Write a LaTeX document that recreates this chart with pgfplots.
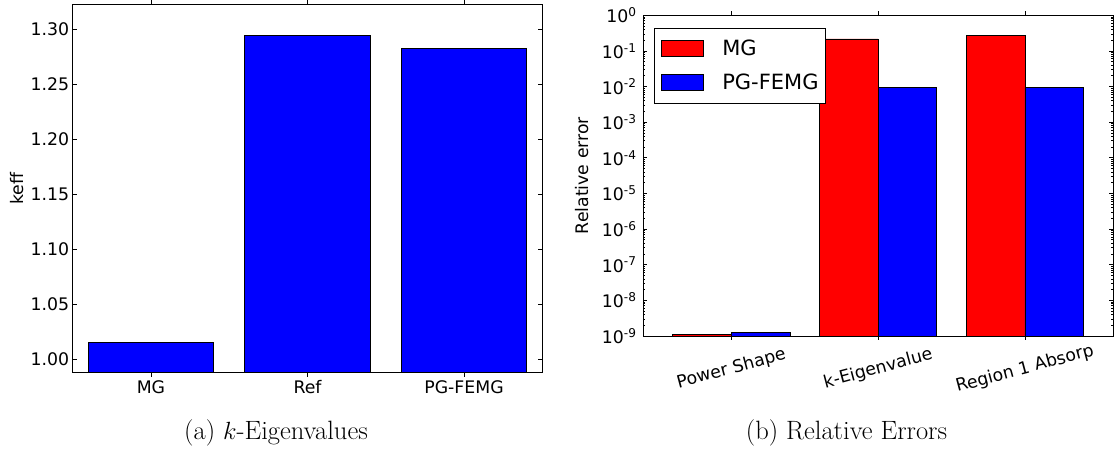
\documentclass[border=0pt]{standalone}
\usepackage{fontspec}
\usepackage{pgfplots}
\pgfplotsset{compat=1.18}
\newfontfamily\dv{DejaVu Sans}
\definecolor{mplblue}{RGB}{0,0,255}
\definecolor{mplred}{RGB}{255,0,0}
\pgfplotsset{
  mplpatch/.style={legend image code/.code={\draw[##1] (0pt,-8pt) rectangle (42.4pt,8pt);}},
  mpl/.style={
    scale only axis, anchor=south west,
    tick align=inside,
    major tick length=4pt, minor tick length=2pt,
    every tick/.style={black, line width=0.8pt},
    axis line style={line width=1pt},
    tick label style={font=\dv\fontsize{17.3}{20}\selectfont},
    label style={font=\dv\fontsize{17.3}{20}\selectfont},
    /pgf/number format/assume math mode=true,
  }
}
\begin{document}
\begin{tikzpicture}
\path[use as bounding box] (0,0) rectangle (1114pt,456pt);
\begin{axis}[mpl,
  at={(72.7pt,83.3pt)}, width=469.6pt, height=368.4pt,
  xmin=-0.5, xmax=2.5, ymin=0.9878, ymax=1.3224,
  xtick={0,1,2}, xticklabels={MG,Ref,PG-FEMG},
  ytick={1.00,1.05,1.10,1.15,1.20,1.25,1.30},
  yticklabel style={/pgf/number format/.cd,fixed,fixed zerofill,precision=2},
  ylabel={keff},
  ylabel style={at={(axis description cs:-0.1186,0.5)}, anchor=center},
  ybar, bar width=0.8,
]
\addplot[fill=mplblue, draw=black, line width=0.8pt, bar shift=0] coordinates {(0,1.0152) (1,1.2945) (2,1.2825)};
\end{axis}
\begin{axis}[mpl,
  at={(643.3pt,120pt)}, width=469.7pt, height=320.7pt,
  xmin=-0.6, xmax=2.6, ymode=log, log basis y=10, ymin=1e-9, ymax=1,
  log origin y=infty,
  xtick={0,1,2}, xticklabels={Power Shape,k-Eigenvalue,Region 1 Absorp},
  xticklabel style={anchor=center, yshift=-29pt, rotate=15},
  ytick={1e-9,1e-8,1e-7,1e-6,1e-5,1e-4,1e-3,1e-2,1e-1,1},
  yticklabels={10\textsuperscript{-9},10\textsuperscript{-8},10\textsuperscript{-7},10\textsuperscript{-6},10\textsuperscript{-5},10\textsuperscript{-4},10\textsuperscript{-3},10\textsuperscript{-2},10\textsuperscript{-1},10\textsuperscript{0}},
  minor ytick={2e-9,3e-9,4e-9,5e-9,6e-9,7e-9,8e-9,9e-9,
    2e-8,3e-8,4e-8,5e-8,6e-8,7e-8,8e-8,9e-8,
    2e-7,3e-7,4e-7,5e-7,6e-7,7e-7,8e-7,9e-7,
    2e-6,3e-6,4e-6,5e-6,6e-6,7e-6,8e-6,9e-6,
    2e-5,3e-5,4e-5,5e-5,6e-5,7e-5,8e-5,9e-5,
    2e-4,3e-4,4e-4,5e-4,6e-4,7e-4,8e-4,9e-4,
    2e-3,3e-3,4e-3,5e-3,6e-3,7e-3,8e-3,9e-3,
    2e-2,3e-2,4e-2,5e-2,6e-2,7e-2,8e-2,9e-2,
    2e-1,3e-1,4e-1,5e-1,6e-1,7e-1,8e-1,9e-1},
  yticklabel style={xshift=-3.2pt},
  ylabel={Relative error},
  ylabel style={at={(axis description cs:-0.1305,0.5)}, anchor=center},
  ybar, bar width=0.4,
  legend style={at={(axis description cs:0.0221,0.9616)}, anchor=north west,
    draw=black, line width=0.8pt, inner xsep=7pt, inner ysep=9pt,
    font=\dv\fontsize{21}{24}\selectfont,
    row sep=11pt,
    nodes={inner xsep=0pt, inner ysep=3pt},
    /tikz/every odd column/.append style={column sep=18pt},
    cells={anchor=west}},
]
\addplot[fill=mplred, draw=black, line width=0.8pt, bar shift=-0.2, mplpatch]
  coordinates {(0,1.1e-9) (1,0.217) (2,0.28)};
\addlegendentry{MG}
\addplot[fill=mplblue, draw=black, line width=0.8pt, bar shift=0.2, mplpatch]
  coordinates {(0,1.25e-9) (1,0.0092) (2,0.0094)};
\addlegendentry{PG-FEMG}
\end{axis}
\node[font=\fontsize{26.5}{30}\selectfont, anchor=base] at (276pt,16.7pt) {(a) $k$-Eigenvalues};
\node[font=\fontsize{26.5}{30}\selectfont, anchor=base] at (846.5pt,16.7pt) {(b) Relative Errors};
\end{tikzpicture}
\end{document}
